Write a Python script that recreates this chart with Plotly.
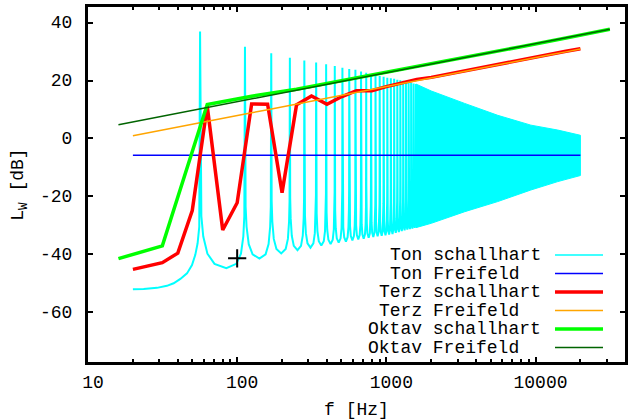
import plotly.graph_objects as go

# ---------------- data ----------------
# Ton schallhart: rising part below the first resonance
ton_sh_start_f = [20.0, 23.6, 29.0, 33.8, 37.5, 41.6, 46.1, 49.8, 52.4, 54.3, 55.7]
ton_sh_start_L = [-52.1, -52.0, -51.6, -50.9, -50.0, -48.5, -46.6, -43.7, -40.2, -36.2, -30.5]
# resonance peaks (Hz) and their heights (dB)
ton_sh_peak_f = [56.4, 112.8, 169.2, 225.6, 282.0, 338.4, 394.8, 451.2, 507.6, 564.0,
                 620.4, 676.8, 733.2, 789.6, 846.0, 902.4, 958.8, 1015.2, 1071.6, 1128.0,
                 1184.4, 1240.8, 1297.2, 1353.6, 1410.0, 1466.4, 1522.8, 1579.2]
ton_sh_peak_L = [36.9, 31.7, 29.4, 27.9, 26.9, 26.2, 25.6, 25.0, 24.4, 24.0,
                 23.7, 23.1, 22.7, 22.3, 21.9, 21.6, 21.3, 21.0, 20.8, 20.6,
                 20.3, 20.1, 19.9, 19.6, 19.4, 19.2, 19.0, 18.8]
# minimum of each trough between two neighbouring peaks (dB)
ton_sh_trough_L = [-44.8, -41.5, -39.7, -38.6, -37.7, -37.0, -36.5, -36.0, -35.6, -35.2,
                   -34.9, -34.6, -34.3, -34.0, -33.8, -33.6, -33.4, -33.2, -33.0, -32.6,
                   -32.3, -32.0, -31.7, -31.5, -31.3, -31.1, -30.9]
# measured trough profile: fraction of the gap between peaks, dB above the trough minimum
trough_shape_t = [0.02, 0.05, 0.12, 0.25, 0.5, 0.75, 0.88, 0.95, 0.98]
trough_shape_dL = [18.0, 11.0, 5.0, 1.5, 0.0, 1.5, 5.0, 11.0, 18.0]
# dense high-frequency part: upper and lower envelope
ton_sh_band_f = [1579.2, 2000, 3350, 5580, 9310, 14100, 20000]
ton_sh_band_hi = [18.8, 16.4, 12.1, 8.0, 4.6, 2.9, 1.1]
ton_sh_band_lo = [-30.8, -29.3, -25.3, -21.8, -17.8, -14.9, -12.8]

# Ton Freifeld
ton_ff_f = [20, 20000]
ton_ff_L = [-5.8, -5.8]

# third-octave bands
terz_f = [20, 25, 31.5, 40, 50, 63, 80, 100, 125, 160, 200, 250, 315, 400, 500, 630, 800,
          1000, 1250, 1600, 2000, 2500, 3150, 4000, 5000, 6300, 8000, 10000, 12500, 16000, 20000]
terz_sh_L = [-45.2, -44.1, -42.9, -39.6, -24.9, 11.2, -31.6, -22.2, 11.9, 11.8, -18.7, 11.6,
             14.7, 11.8, 14.4, 16.5, 16.5, 17.9, 19.1, 20.4, 21.1, 22.1, 23.1, 24.1, 25.1,
             26.1, 27.1, 28.1, 29.1, 30.1, 31.0]
terz_ff_L = [0.9, 1.9, 2.9, 3.9, 4.9, 5.9, 6.9, 7.9, 8.9, 9.9, 10.9, 11.9, 12.9, 13.9, 14.9,
             15.9, 16.9, 17.9, 18.9, 19.9, 20.9, 21.9, 22.9, 23.9, 24.9, 25.9, 26.9, 27.9,
             28.9, 29.9, 30.9]

# octave bands
okt_f = [16, 31.5, 63, 125, 250, 500, 1000, 2000, 4000, 8000, 16000, 31500]
okt_sh_L = [-41.5, -37.1, 11.7, 14.6, 17.0, 19.9, 22.8, 25.7, 28.7, 31.7, 34.7, 37.7]
okt_ff_L = [4.7, 7.6, 10.7, 13.7, 16.7, 19.7, 22.7, 25.7, 28.7, 31.7, 34.7, 37.7]

# marked point
mark_f = [100]
mark_L = [-41.4]

series_names = ["Ton schallhart", "Ton Freifeld", "Terz schallhart",
                "Terz Freifeld", "Oktav schallhart", "Oktav Freifeld"]

x_ticks = [10, 100, 1000, 10000]
x_minor = [20, 30, 40, 50, 60, 70, 80, 90, 200, 300, 400, 500, 600, 700, 800, 900,
           2000, 3000, 4000, 5000, 6000, 7000, 8000, 9000, 20000, 30000]
y_ticks = [-60, -40, -20, 0, 20, 40]

# ---------------- build the resonance curve from the read values ----------------
cyan_x = list(ton_sh_start_f)
cyan_y = list(ton_sh_start_L)
for i, (pf, pl) in enumerate(zip(ton_sh_peak_f, ton_sh_peak_L)):
    cyan_x.append(pf)
    cyan_y.append(pl)
    if i < len(ton_sh_trough_L):
        gap = ton_sh_peak_f[i + 1] - pf
        for t, d in zip(trough_shape_t, trough_shape_dL):
            cyan_x.append(pf + t * gap)
            cyan_y.append(ton_sh_trough_L[i] + d)

band_x = ton_sh_band_f + ton_sh_band_f[::-1]
band_y = ton_sh_band_hi + ton_sh_band_lo[::-1]

# ---------------- styles ----------------
CYAN, BLUE, RED, ORANGE, GREEN, DKGREEN = "#00ffff", "#0000ff", "#ff0000", "#ffa500", "#00ff00", "#006400"
FONT = "Liberation Mono, Courier New, monospace"

fig = go.Figure()
fig.add_trace(go.Scatter(x=band_x, y=band_y, fill="toself", fillcolor=CYAN, mode="lines",
                         line=dict(color=CYAN, width=1), hoverinfo="skip", name=series_names[0]))
fig.add_trace(go.Scatter(x=cyan_x, y=cyan_y, mode="lines", line=dict(color=CYAN, width=2),
                         name=series_names[0]))
fig.add_trace(go.Scatter(x=ton_ff_f, y=ton_ff_L, mode="lines", line=dict(color=BLUE, width=1.5),
                         name=series_names[1]))
fig.add_trace(go.Scatter(x=terz_f, y=terz_sh_L, mode="lines", line=dict(color=RED, width=3.5),
                         name=series_names[2]))
fig.add_trace(go.Scatter(x=terz_f, y=terz_ff_L, mode="lines", line=dict(color=ORANGE, width=1.5),
                         name=series_names[3]))
fig.add_trace(go.Scatter(x=okt_f, y=okt_sh_L, mode="lines", line=dict(color=GREEN, width=3.5),
                         name=series_names[4]))
fig.add_trace(go.Scatter(x=okt_f, y=okt_ff_L, mode="lines", line=dict(color=DKGREEN, width=1.5),
                         name=series_names[5]))
fig.add_trace(go.Scatter(x=mark_f, y=mark_L, mode="markers",
                         marker=dict(symbol="cross-thin", size=13, line=dict(color="black", width=2)),
                         showlegend=False, hoverinfo="skip"))

# ---------------- layout ----------------
W, H = 629, 420
ML, MR, MT, MB = 88, 4, 7, 58
PW, PH = W - ML - MR, H - MT - MB


def px(xp):
    return (xp - ML) / PW


def py(yp):
    return (H - MB - yp) / PH


fig.update_layout(
    width=W, height=H,
    margin=dict(l=ML, r=MR, t=MT, b=MB, pad=0),
    paper_bgcolor="white", plot_bgcolor="white",
    showlegend=False,
    font=dict(family=FONT, size=18, color="black"),
    xaxis=dict(type="log", range=[1, 4.6], showline=True, linewidth=3, linecolor="black",
               mirror="allticks", ticks="inside", ticklen=5, tickwidth=2, tickcolor="black",
               tickvals=x_ticks, ticktext=[str(v) for v in x_ticks], showgrid=False,
               zeroline=False, automargin=False, ticklabelshift=5, ticklabelstandoff=1,
               minor=dict(ticks="inside", ticklen=3, tickwidth=2, tickcolor="black",
                          tickvals=x_minor, showgrid=False),
               title=dict(text="f [Hz]", standoff=15, font=dict(family=FONT, size=18))),
    yaxis=dict(range=[-77.2, 45.4], showline=True, linewidth=3, linecolor="black",
               mirror="allticks", ticks="inside", ticklen=5, tickwidth=2, tickcolor="black",
               tickvals=y_ticks, ticktext=[str(v) for v in y_ticks], showgrid=False,
               zeroline=False, automargin=False, ticklabelstandoff=9, ticklabelshift=-1,
               title=dict(text="L<sub>W</sub> [dB]", standoff=12, font=dict(family=FONT, size=18))),
)

# key (text right of which a line sample is drawn, as in the reference)
key_colors = [CYAN, BLUE, RED, ORANGE, GREEN, DKGREEN]
key_widths = [1.5, 1.5, 3.5, 1.5, 3.5, 1.5]
key_rows = [255, 273.5, 292, 310.5, 329, 347.5]
for name, col, wdt, yr in zip(series_names, key_colors, key_widths, key_rows):
    pad = "\u00a0" * (len("schallhart") - len(name.split(" ")[1]))
    fig.add_annotation(x=px(542.5), y=py(yr), xref="paper", yref="paper", text=name + pad,
                       showarrow=False, xanchor="right", yanchor="middle",
                       font=dict(family=FONT, size=18, color="black"))
    fig.add_shape(type="line", xref="paper", yref="paper", x0=px(555), x1=px(603),
                  y0=py(yr), y1=py(yr), line=dict(color=col, width=wdt))

fig.write_html("out.html", config={"displayModeBar": False},
               post_script="document.body.style.margin='0';")
